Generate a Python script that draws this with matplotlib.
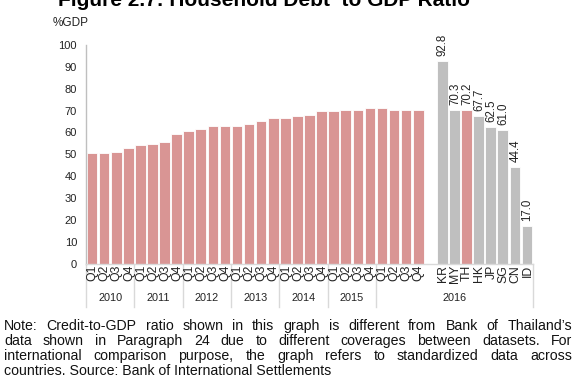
import matplotlib
matplotlib.use("Agg")
import matplotlib.pyplot as plt
import numpy as np

plt.rcParams['font.family'] = ['Liberation Sans', 'DejaVu Sans']

years = ['2010', '2011', '2012', '2013', '2014', '2015', '2016']
quarters = ['Q1', 'Q2', 'Q3', 'Q4']
thai_values = [50.5, 50.5, 51.2, 52.7, 54.1, 54.9, 55.6, 59.3,
               60.8, 61.4, 62.9, 62.9, 62.9, 63.7, 65.2, 66.6,
               66.6, 67.4, 68.1, 69.7, 69.7, 70.3, 70.3, 71.2,
               71.2, 70.3, 70.3, 70.2]
countries = ['KR', 'MY', 'TH', 'HK', 'JP', 'SG', 'CN', 'ID']
country_values = [92.8, 70.3, 70.2, 67.7, 62.5, 61.0, 44.4, 17.0]
yticks = [0, 10, 20, 30, 40, 50, 60, 70, 80, 90, 100]

red = '#D99594'
grey = '#BFBFBF'
line_grey = '#D9D9D9'
txt = '#222222'

W, H = 577, 388
fig = plt.figure(figsize=(W / 100, H / 100), dpi=100)
ax = fig.add_axes([86 / W, 1 - 263.6 / H, (533 - 86) / W, (263.6 - 45) / H])

nq = len(thai_values)
xq = np.arange(nq)
xc = np.arange(nq + 1, nq + 1 + len(countries))
ccolors = [red if c == 'TH' else grey for c in countries]

bw = 0.88
ax.bar(xq, thai_values, width=bw, color=red, edgecolor='white', linewidth=0.6)
ax.bar(xc, country_values, width=bw, color=ccolors, edgecolor='white', linewidth=0.6)

for x, v in zip(xc, country_values):
    ax.text(x + 0.05, v + 2.3, f'{v:.1f}', rotation=90, ha='center', va='bottom',
            fontsize=8.3, color=txt, clip_on=False)

ax.set_xlim(-0.5, nq + len(countries) + 0.5)
ax.set_ylim(0, 100)
ax.set_yticks(yticks)
ax.set_yticklabels([str(t) for t in yticks], fontsize=8, color=txt)
ax.tick_params(axis='y', length=0, pad=6.5)
ax.tick_params(axis='x', length=0, labelbottom=False)
for s in ['top', 'right']:
    ax.spines[s].set_visible(False)
ax.spines['left'].set_color('#BFBFBF')
ax.spines['bottom'].set_color(line_grey)
ax.spines['left'].set_linewidth(1.0)
ax.spines['bottom'].set_linewidth(1.0)

trans = ax.get_xaxis_transform()
cat_labels = [q for y in years for q in quarters]
for x, lab in zip(xq, cat_labels):
    ax.text(x + 0.05, -0.006, lab, rotation=90, ha='center', va='top', fontsize=8.8,
            color=txt, transform=trans, clip_on=False)
for x, lab in zip(xc, countries):
    ax.text(x + 0.05, -0.006, lab, rotation=90, ha='center', va='top', fontsize=8.8,
            color=txt, transform=trans, clip_on=False)

ybot = -(307 - 263.6) / (263.6 - 45)
ylab = -(298 - 263.6) / (263.6 - 45)
bounds = [-0.5 + 4 * i for i in range(7)] + [nq + len(countries) + 0.5]
for i, yr in enumerate(years):
    a, b = bounds[i], bounds[i + 1]
    ax.text((a + b) / 2, ylab, yr, ha='center', va='center', fontsize=7.8,
            color=txt, transform=trans, clip_on=False)
for bx in bounds:
    ax.plot([bx, bx], [0, ybot], color=line_grey, lw=1.0, transform=trans, clip_on=False)

fig.text(53 / W, 1 - 23 / H, '%GDP', fontsize=8.5, ha='left', va='center', color=txt)

fig.text(264 / W, 1 - 5.5 / H, 'Figure 2.7: Household Debt  to GDP Ratio', fontsize=15,
         fontweight='bold', ha='center', va='baseline')

lines = [
    "Note: Credit-to-GDP ratio shown in this graph is different from Bank of Thailand\u2019s",
    "data shown in Paragraph 24 due to different coverages between datasets. For",
    "international comparison purpose, the graph refers to standardized data across",
    "countries. Source: Bank of International Settlements",
]
x0, x1 = 4, 572
ys = [326, 341, 356, 371]
fig.canvas.draw()
renderer = fig.canvas.get_renderer()
fs = 10.2
for li, (line, yy) in enumerate(zip(lines, ys)):
    yf = 1 - yy / H
    if li == len(lines) - 1:
        fig.text(x0 / W, yf, line, fontsize=fs, ha='left', va='center', color='#111111')
        continue
    words = line.split(' ')
    widths = []
    for w in words:
        t = fig.text(0, 0, w, fontsize=fs)
        widths.append(t.get_window_extent(renderer).width)
        t.remove()
    gap = ((x1 - x0) - sum(widths)) / (len(words) - 1)
    xx = x0
    for w, wd in zip(words, widths):
        fig.text(xx / W, yf, w, fontsize=fs, ha='left', va='center', color='#111111')
        xx += wd + gap

fig.savefig('out.png', dpi=100)
